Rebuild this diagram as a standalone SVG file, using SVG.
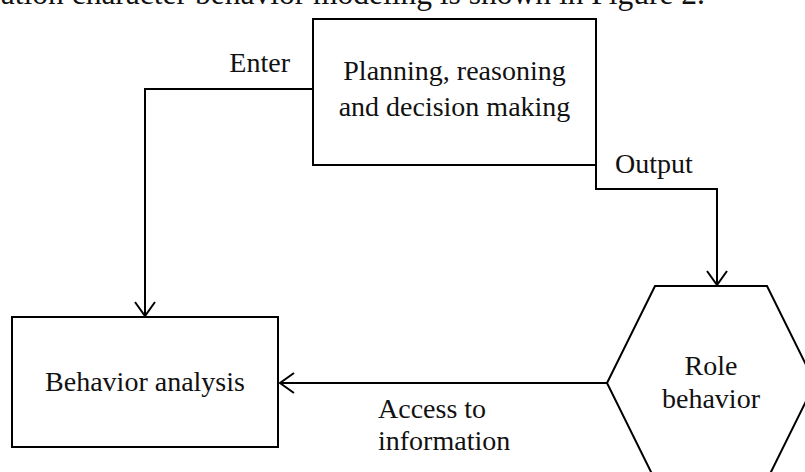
<svg xmlns="http://www.w3.org/2000/svg" width="805" height="472" viewBox="0 0 805 472">
<style>
.shape{fill:#fff;stroke:#000;stroke-width:2}
.conn{fill:none;stroke:#000;stroke-width:2}
text{font-family:"Liberation Serif","Times New Roman",serif;font-size:28px;fill:#111}
.c{text-anchor:middle}
</style>
<defs>
<marker id="arr" viewBox="0 0 20 24" refX="18" refY="12" markerWidth="20" markerHeight="24" markerUnits="userSpaceOnUse" orient="auto">
<path d="M4,2 L18,12 L4,22" fill="none" stroke="#000" stroke-width="2"/>
</marker>
</defs>
<rect width="805" height="472" fill="#fff"/>
<text x="705" y="4" text-anchor="end" style="font-size:31.5px">ation character behavior modeling is shown in Figure 2.</text>
<g id="connectors">
<path class="conn" d="M313,89 H145 V316" marker-end="url(#arr)"/>
<path class="conn" d="M596,165 V189 H717 V285" marker-end="url(#arr)"/>
<path class="conn" d="M607,383 H280" marker-end="url(#arr)"/>
<text x="290" y="72" text-anchor="end">Enter</text>
<text x="615" y="173">Output</text>
<text x="378" y="418">Access to</text>
<text x="378" y="450">information</text>
</g>
<g id="planning">
<rect class="shape" x="313" y="19" width="283" height="146"/>
<text class="c" x="454.5" y="80">Planning, reasoning</text>
<text class="c" x="454.5" y="116">and decision making</text>
</g>
<g id="behavior-analysis">
<rect class="shape" x="12" y="317" width="266" height="130"/>
<text class="c" x="145" y="391">Behavior analysis</text>
</g>
<g id="role-behavior">
<polygon class="shape" points="655,286 767,286 815,383 767,480 655,480 607,383"/>
<text class="c" x="711" y="375">Role</text>
<text class="c" x="711" y="408">behavior</text>
</g>
</svg>
